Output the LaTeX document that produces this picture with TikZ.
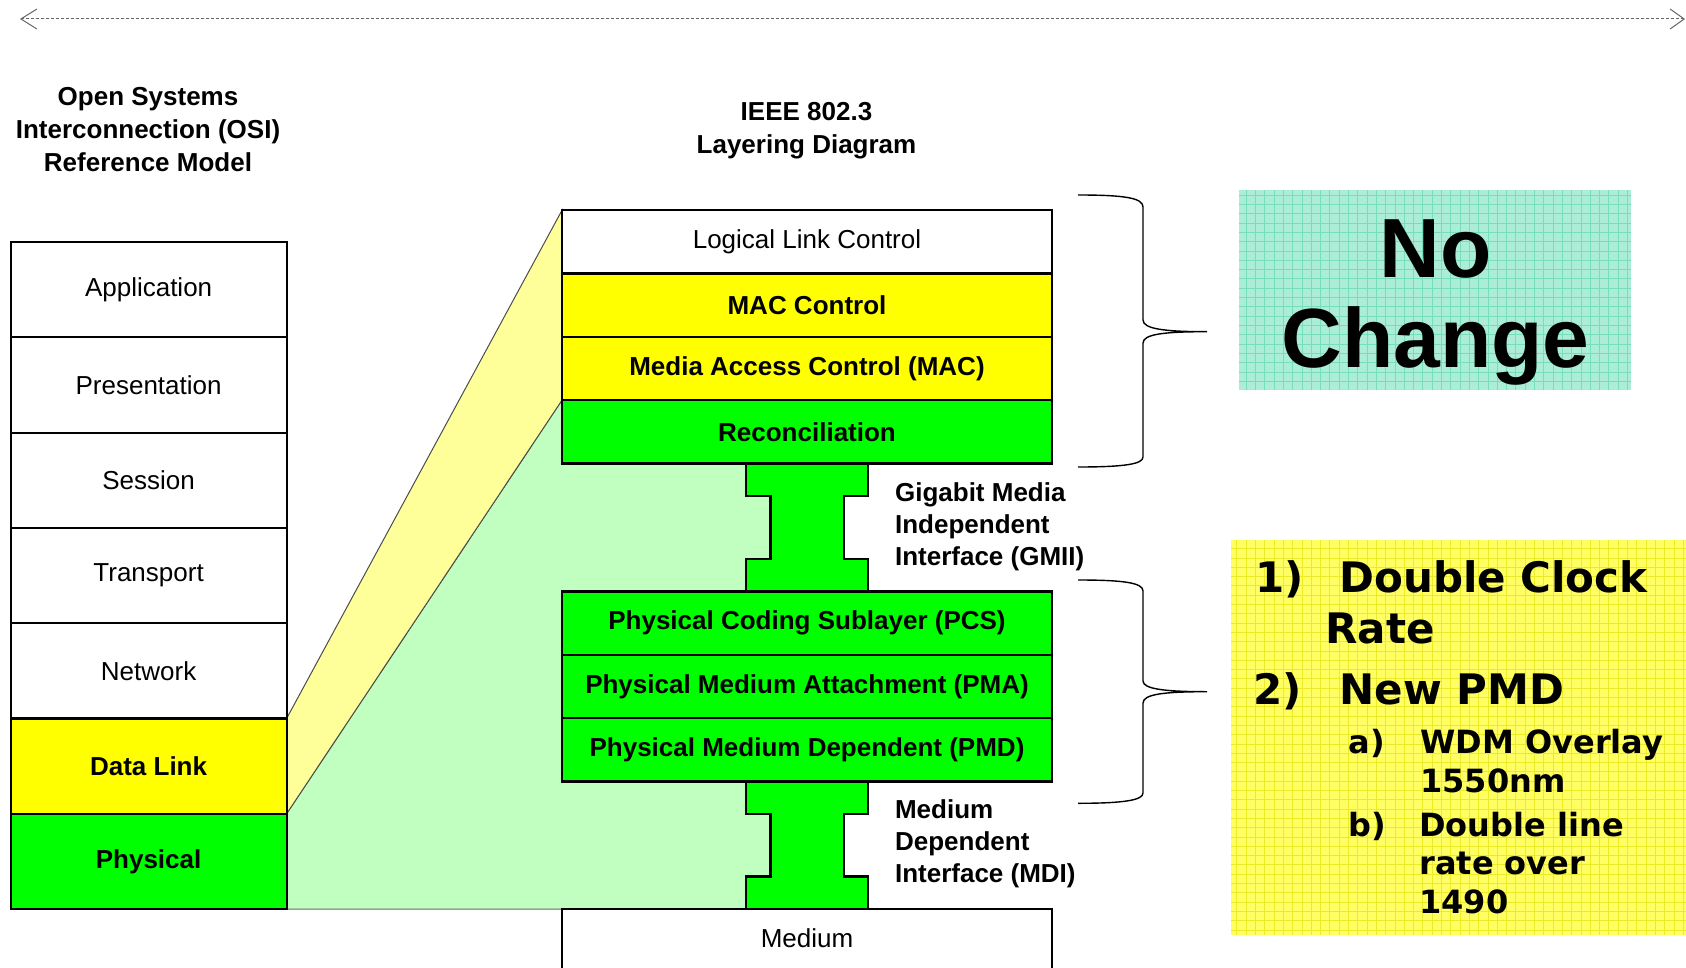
\documentclass[tikz,border=0pt]{standalone}
\usepackage{fontspec}
\setmainfont{Liberation Sans}
\newfontfamily\listfont{DejaVu Sans}
\usetikzlibrary{arrows.meta}
\pgfdeclarelayer{background}
\pgfsetlayers{background,main}
\definecolor{layyellow}{RGB}{255,255,0}
\definecolor{laygreen}{RGB}{0,255,0}
\definecolor{fanyellow}{RGB}{255,255,153}
\definecolor{fangreen}{RGB}{192,255,192}
\definecolor{mintbase}{RGB}{172,237,215}
\definecolor{mintline}{RGB}{118,222,186}
\definecolor{noteyellow}{RGB}{255,255,100}
\definecolor{noteline}{RGB}{235,235,40}
% interface piece between two IEEE layers: top y, bottom y
\newcommand\ibeam[2]{%
  \filldraw[fill=laygreen, line width=1.1pt, line join=miter]
    (746,#1) -- (746,{#1+32.5}) -- (770.5,{#1+32.5}) -- (770.5,{#2-32.5}) -- (746,{#2-32.5}) -- (746,#2)
    -- (868,#2) -- (868,{#2-32.5}) -- (844,{#2-32.5}) -- (844,{#1+32.5}) -- (868,{#1+32.5}) -- (868,#1) -- cycle;}

\begin{document}
\begin{tikzpicture}[x=0.5pt, y=-0.5pt,
  layer/.style={draw, line width=1.1pt, inner sep=0pt, outer sep=0pt, font=\fontsize{13}{15}\selectfont},
  osi/.style={layer, minimum width=138pt, minimum height=47.65pt},
  ieee/.style={layer, minimum width=245pt, minimum height=31.65pt},
  bold/.style={font=\fontsize{13}{15}\selectfont\bfseries},
  head/.style={align=center, font=\fontsize{13}{16.5}\selectfont\bfseries},
  iface/.style={align=left, anchor=west, font=\fontsize{13}{16}\selectfont\bfseries},
  bigitem/.style={anchor=base west, inner sep=0pt, font=\listfont\fontsize{21}{21}\selectfont\bfseries},
  subitem/.style={anchor=base west, inner sep=0pt, font=\listfont\fontsize{16}{16}\selectfont\bfseries},
  brace/.style={line width=0.7pt}]
  \useasboundingbox (0,0) rectangle (1686,968);
  % span arrow on top
  \coordinate (spanl) at (20,19);
  \coordinate (spanr) at (1685,19);
  \draw[{Straight Barb[length=8pt,width=10pt]}-{Straight Barb[length=7pt,width=10pt]}, gray!80!black, line width=0.5pt, dash pattern=on 1.5pt off 1pt] (spanl) -- (spanr);

  % headings
  \node[head] (osihead) at (148,130) {Open Systems\\Interconnection (OSI)\\Reference Model};
  \node[head] (ieeehead) at (806.5,131) {IEEE 802.3\\Layering Diagram};

  % OSI stack
  \node[osi] (app) at (148.6,289.65) {Application};
  \node[osi] (pres) at (148.6,384.95) {Presentation};
  \node[osi] (sess) at (148.6,480.25) {Session};
  \node[osi] (trans) at (148.6,575.55) {Transport};
  \node[osi] (net) at (148.6,670.85) {Network};
  \node[osi, fill=layyellow, bold] (dl) at (148.6,766.15) {Data Link};
  \node[osi, fill=laygreen, bold] (phy) at (148.6,861.45) {Physical};

  % IEEE stack
  \node[ieee] (llc) at (807,241.9) {Logical Link Control};
  \node[ieee, fill=layyellow, bold] (macc) at (807,305.2) {MAC Control};
  \node[ieee, fill=layyellow, bold] (mac) at (807,368.5) {Media Access Control (MAC)};
  \node[ieee, fill=laygreen, bold] (rec) at (807,431.8) {Reconciliation};
  \node[ieee, fill=laygreen, bold] (pcs) at (807,623.2) {Physical Coding Sublayer (PCS)};
  \node[ieee, fill=laygreen, bold] (pma) at (807,686.5) {Physical Medium Attachment (PMA)};
  \node[ieee, fill=laygreen, bold] (pmd) at (807,749.8) {Physical Medium Dependent (PMD)};

  % fans from OSI to IEEE
  \begin{pgfonlayer}{background}
    \filldraw[fill=fangreen, draw=black!60, line width=0.5pt] (phy.north east) -- (rec.north west) -- (800,400) -- (800,909) -- (phy.south east) -- cycle;
    \filldraw[fill=fanyellow, draw=black!70, line width=0.5pt] (dl.north east) -- (llc.north west) -- (rec.north west) -- (phy.north east) -- cycle;
  \end{pgfonlayer}

  % interfaces
  \ibeam{463.5}{591.5}
  \ibeam{781.5}{909}
  \node[ieee, minimum height=58pt, anchor=north, text depth=0pt] (med) at (807,909) {};
  \node (medtxt) at (807,938.5) {\fontsize{13}{15}\selectfont Medium};
  \node[iface] (gmii) at (888,527) {Gigabit Media\\Independent\\Interface (GMII)};
  \node[iface] (mdi) at (888,844) {Medium\\Dependent\\Interface (MDI)};

  % braces
  \draw[brace] (1078,195) .. controls (1125,195) and (1143,198) .. (1143,207) -- (1143,320)
    .. controls (1143,329) and (1165,331.7) .. (1207,331.7)
    .. controls (1165,331.7) and (1143,334) .. (1143,343) -- (1143,457)
    .. controls (1143,464) and (1125,467) .. (1078,467);
  \draw[brace] (1078,580) .. controls (1125,580) and (1143,583) .. (1143,591) -- (1143,681)
    .. controls (1143,689) and (1165,691.7) .. (1207,691.7)
    .. controls (1165,691.7) and (1143,694) .. (1143,703) -- (1143,793)
    .. controls (1143,800) and (1125,803.3) .. (1078,803.3);

  % no change box
  \fill[mintbase] (1239,190) rectangle (1631,390);
  \draw[mintline, line width=0.5pt, step=4.65pt] (1239,390) grid (1631,190);
  \node[anchor=base, inner sep=0pt, font=\fontsize{42}{42}\selectfont\bfseries] (no) at (1435.5,277.4) {No};
  \node[anchor=base, inner sep=0pt, font=\fontsize{42}{42}\selectfont\bfseries] (chg) at (1435.5,367.7) {Change};

  % changes box
  \fill[noteyellow] (1231,539.5) rectangle (1686,935);
  \draw[noteline, line width=0.5pt, step=4.65pt] (1231,935) grid (1686,539.5);
  \node[bigitem] (n1) at (1255,592) {1)};
  \node[bigitem] (n1t) at (1339,592) {Double Clock};
  \node[bigitem] (n1u) at (1325,643) {Rate};
  \node[bigitem] (n2) at (1253,704) {2)};
  \node[bigitem] (n2t) at (1339,704) {New PMD};
  \node[subitem] (na) at (1348,753) {a)};
  \node[subitem] (nat) at (1420,753) {WDM Overlay};
  \node[subitem] (nau) at (1420,792) {1550nm};
  \node[subitem] (nb) at (1348,836) {b)};
  \node[subitem] (nbt) at (1419,836) {Double line};
  \node[subitem] (nbu) at (1419,874) {rate over};
  \node[subitem] (nbv) at (1419,913) {1490};
\end{tikzpicture}
\end{document}
